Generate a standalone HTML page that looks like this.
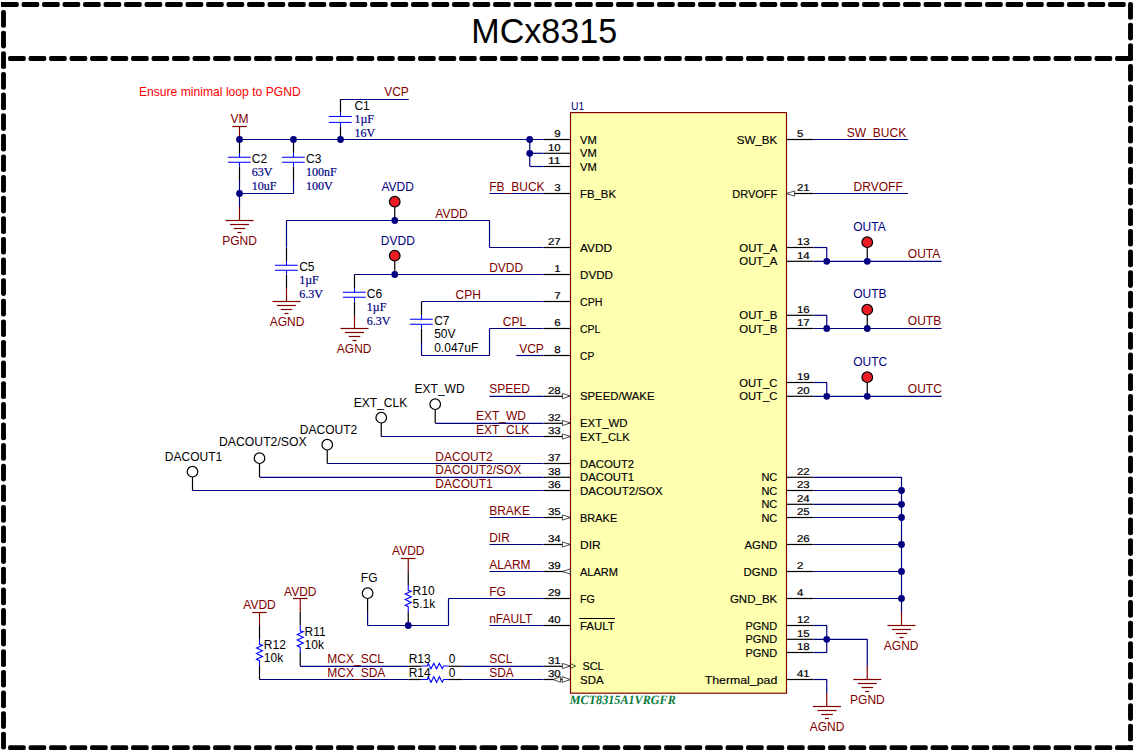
<!DOCTYPE html>
<html><head><meta charset="utf-8"><title>MCx8315</title>
<style>html,body{margin:0;padding:0;background:#fff;}svg{display:block}</style>
</head><body>
<svg width="1136" height="752" viewBox="0 0 1136 752">
<rect width="1136" height="752" fill="#fff"/>
<defs><rect id="dh" width="17.8" height="4.9" rx="1.8" ry="2.2"/><rect id="dv" width="4.9" height="17.7" rx="2.2" ry="1.8"/></defs>
<use href="#dh" x="1.0" y="2.05"/>
<use href="#dh" x="21.5" y="2.05"/>
<use href="#dh" x="42.0" y="2.05"/>
<use href="#dh" x="62.5" y="2.05"/>
<use href="#dh" x="83.0" y="2.05"/>
<use href="#dh" x="103.5" y="2.05"/>
<use href="#dh" x="124.0" y="2.05"/>
<use href="#dh" x="144.5" y="2.05"/>
<use href="#dh" x="165.0" y="2.05"/>
<use href="#dh" x="185.5" y="2.05"/>
<use href="#dh" x="206.0" y="2.05"/>
<use href="#dh" x="226.5" y="2.05"/>
<use href="#dh" x="247.0" y="2.05"/>
<use href="#dh" x="267.5" y="2.05"/>
<use href="#dh" x="288.0" y="2.05"/>
<use href="#dh" x="308.5" y="2.05"/>
<use href="#dh" x="329.0" y="2.05"/>
<use href="#dh" x="349.5" y="2.05"/>
<use href="#dh" x="370.0" y="2.05"/>
<use href="#dh" x="390.5" y="2.05"/>
<use href="#dh" x="411.0" y="2.05"/>
<use href="#dh" x="431.5" y="2.05"/>
<use href="#dh" x="452.0" y="2.05"/>
<use href="#dh" x="472.5" y="2.05"/>
<use href="#dh" x="493.0" y="2.05"/>
<use href="#dh" x="513.5" y="2.05"/>
<use href="#dh" x="534.0" y="2.05"/>
<use href="#dh" x="554.5" y="2.05"/>
<use href="#dh" x="575.0" y="2.05"/>
<use href="#dh" x="595.5" y="2.05"/>
<use href="#dh" x="616.0" y="2.05"/>
<use href="#dh" x="636.5" y="2.05"/>
<use href="#dh" x="657.0" y="2.05"/>
<use href="#dh" x="677.5" y="2.05"/>
<use href="#dh" x="698.0" y="2.05"/>
<use href="#dh" x="718.5" y="2.05"/>
<use href="#dh" x="739.0" y="2.05"/>
<use href="#dh" x="759.5" y="2.05"/>
<use href="#dh" x="780.0" y="2.05"/>
<use href="#dh" x="800.5" y="2.05"/>
<use href="#dh" x="821.0" y="2.05"/>
<use href="#dh" x="841.5" y="2.05"/>
<use href="#dh" x="862.0" y="2.05"/>
<use href="#dh" x="882.5" y="2.05"/>
<use href="#dh" x="903.0" y="2.05"/>
<use href="#dh" x="923.5" y="2.05"/>
<use href="#dh" x="944.0" y="2.05"/>
<use href="#dh" x="964.5" y="2.05"/>
<use href="#dh" x="985.0" y="2.05"/>
<use href="#dh" x="1005.5" y="2.05"/>
<use href="#dh" x="1026.0" y="2.05"/>
<use href="#dh" x="1046.5" y="2.05"/>
<use href="#dh" x="1067.0" y="2.05"/>
<use href="#dh" x="1087.5" y="2.05"/>
<use href="#dh" x="1108.0" y="2.05"/>
<use href="#dh" x="8.0" y="56.05"/>
<use href="#dh" x="28.5" y="56.05"/>
<use href="#dh" x="49.0" y="56.05"/>
<use href="#dh" x="69.5" y="56.05"/>
<use href="#dh" x="90.0" y="56.05"/>
<use href="#dh" x="110.5" y="56.05"/>
<use href="#dh" x="131.0" y="56.05"/>
<use href="#dh" x="151.5" y="56.05"/>
<use href="#dh" x="172.0" y="56.05"/>
<use href="#dh" x="192.5" y="56.05"/>
<use href="#dh" x="213.0" y="56.05"/>
<use href="#dh" x="233.5" y="56.05"/>
<use href="#dh" x="254.0" y="56.05"/>
<use href="#dh" x="274.5" y="56.05"/>
<use href="#dh" x="295.0" y="56.05"/>
<use href="#dh" x="315.5" y="56.05"/>
<use href="#dh" x="336.0" y="56.05"/>
<use href="#dh" x="356.5" y="56.05"/>
<use href="#dh" x="377.0" y="56.05"/>
<use href="#dh" x="397.5" y="56.05"/>
<use href="#dh" x="418.0" y="56.05"/>
<use href="#dh" x="438.5" y="56.05"/>
<use href="#dh" x="459.0" y="56.05"/>
<use href="#dh" x="479.5" y="56.05"/>
<use href="#dh" x="500.0" y="56.05"/>
<use href="#dh" x="520.5" y="56.05"/>
<use href="#dh" x="541.0" y="56.05"/>
<use href="#dh" x="561.5" y="56.05"/>
<use href="#dh" x="582.0" y="56.05"/>
<use href="#dh" x="602.5" y="56.05"/>
<use href="#dh" x="623.0" y="56.05"/>
<use href="#dh" x="643.5" y="56.05"/>
<use href="#dh" x="664.0" y="56.05"/>
<use href="#dh" x="684.5" y="56.05"/>
<use href="#dh" x="705.0" y="56.05"/>
<use href="#dh" x="725.5" y="56.05"/>
<use href="#dh" x="746.0" y="56.05"/>
<use href="#dh" x="766.5" y="56.05"/>
<use href="#dh" x="787.0" y="56.05"/>
<use href="#dh" x="807.5" y="56.05"/>
<use href="#dh" x="828.0" y="56.05"/>
<use href="#dh" x="848.5" y="56.05"/>
<use href="#dh" x="869.0" y="56.05"/>
<use href="#dh" x="889.5" y="56.05"/>
<use href="#dh" x="910.0" y="56.05"/>
<use href="#dh" x="930.5" y="56.05"/>
<use href="#dh" x="951.0" y="56.05"/>
<use href="#dh" x="971.5" y="56.05"/>
<use href="#dh" x="992.0" y="56.05"/>
<use href="#dh" x="1012.5" y="56.05"/>
<use href="#dh" x="1033.0" y="56.05"/>
<use href="#dh" x="1053.5" y="56.05"/>
<use href="#dh" x="1074.0" y="56.05"/>
<use href="#dh" x="1094.5" y="56.05"/>
<use href="#dh" x="1115.0" y="56.05"/>
<use href="#dh" x="8.0" y="745.20"/>
<use href="#dh" x="28.5" y="745.20"/>
<use href="#dh" x="49.0" y="745.20"/>
<use href="#dh" x="69.5" y="745.20"/>
<use href="#dh" x="90.0" y="745.20"/>
<use href="#dh" x="110.5" y="745.20"/>
<use href="#dh" x="131.0" y="745.20"/>
<use href="#dh" x="151.5" y="745.20"/>
<use href="#dh" x="172.0" y="745.20"/>
<use href="#dh" x="192.5" y="745.20"/>
<use href="#dh" x="213.0" y="745.20"/>
<use href="#dh" x="233.5" y="745.20"/>
<use href="#dh" x="254.0" y="745.20"/>
<use href="#dh" x="274.5" y="745.20"/>
<use href="#dh" x="295.0" y="745.20"/>
<use href="#dh" x="315.5" y="745.20"/>
<use href="#dh" x="336.0" y="745.20"/>
<use href="#dh" x="356.5" y="745.20"/>
<use href="#dh" x="377.0" y="745.20"/>
<use href="#dh" x="397.5" y="745.20"/>
<use href="#dh" x="418.0" y="745.20"/>
<use href="#dh" x="438.5" y="745.20"/>
<use href="#dh" x="459.0" y="745.20"/>
<use href="#dh" x="479.5" y="745.20"/>
<use href="#dh" x="500.0" y="745.20"/>
<use href="#dh" x="520.5" y="745.20"/>
<use href="#dh" x="541.0" y="745.20"/>
<use href="#dh" x="561.5" y="745.20"/>
<use href="#dh" x="582.0" y="745.20"/>
<use href="#dh" x="602.5" y="745.20"/>
<use href="#dh" x="623.0" y="745.20"/>
<use href="#dh" x="643.5" y="745.20"/>
<use href="#dh" x="664.0" y="745.20"/>
<use href="#dh" x="684.5" y="745.20"/>
<use href="#dh" x="705.0" y="745.20"/>
<use href="#dh" x="725.5" y="745.20"/>
<use href="#dh" x="746.0" y="745.20"/>
<use href="#dh" x="766.5" y="745.20"/>
<use href="#dh" x="787.0" y="745.20"/>
<use href="#dh" x="807.5" y="745.20"/>
<use href="#dh" x="828.0" y="745.20"/>
<use href="#dh" x="848.5" y="745.20"/>
<use href="#dh" x="869.0" y="745.20"/>
<use href="#dh" x="889.5" y="745.20"/>
<use href="#dh" x="910.0" y="745.20"/>
<use href="#dh" x="930.5" y="745.20"/>
<use href="#dh" x="951.0" y="745.20"/>
<use href="#dh" x="971.5" y="745.20"/>
<use href="#dh" x="992.0" y="745.20"/>
<use href="#dh" x="1012.5" y="745.20"/>
<use href="#dh" x="1033.0" y="745.20"/>
<use href="#dh" x="1053.5" y="745.20"/>
<use href="#dh" x="1074.0" y="745.20"/>
<use href="#dh" x="1094.5" y="745.20"/>
<use href="#dh" x="1115.0" y="745.20"/>
<use href="#dv" x="1.05" y="10.1"/>
<use href="#dv" x="1.05" y="30.7"/>
<use href="#dv" x="1.05" y="51.3"/>
<use href="#dv" x="1.05" y="72.0"/>
<use href="#dv" x="1.05" y="92.6"/>
<use href="#dv" x="1.05" y="113.2"/>
<use href="#dv" x="1.05" y="133.8"/>
<use href="#dv" x="1.05" y="154.4"/>
<use href="#dv" x="1.05" y="175.1"/>
<use href="#dv" x="1.05" y="195.7"/>
<use href="#dv" x="1.05" y="216.3"/>
<use href="#dv" x="1.05" y="236.9"/>
<use href="#dv" x="1.05" y="257.5"/>
<use href="#dv" x="1.05" y="278.2"/>
<use href="#dv" x="1.05" y="298.8"/>
<use href="#dv" x="1.05" y="319.4"/>
<use href="#dv" x="1.05" y="340.0"/>
<use href="#dv" x="1.05" y="360.6"/>
<use href="#dv" x="1.05" y="381.3"/>
<use href="#dv" x="1.05" y="401.9"/>
<use href="#dv" x="1.05" y="422.5"/>
<use href="#dv" x="1.05" y="443.1"/>
<use href="#dv" x="1.05" y="463.7"/>
<use href="#dv" x="1.05" y="484.4"/>
<use href="#dv" x="1.05" y="505.0"/>
<use href="#dv" x="1.05" y="525.6"/>
<use href="#dv" x="1.05" y="546.2"/>
<use href="#dv" x="1.05" y="566.8"/>
<use href="#dv" x="1.05" y="587.5"/>
<use href="#dv" x="1.05" y="608.1"/>
<use href="#dv" x="1.05" y="628.7"/>
<use href="#dv" x="1.05" y="649.3"/>
<use href="#dv" x="1.05" y="669.9"/>
<use href="#dv" x="1.05" y="690.6"/>
<use href="#dv" x="1.05" y="711.2"/>
<use href="#dv" x="1.05" y="731.8"/>
<use href="#dv" x="1128.05" y="2.1"/>
<use href="#dv" x="1128.05" y="22.7"/>
<use href="#dv" x="1128.05" y="43.3"/>
<use href="#dv" x="1128.05" y="64.0"/>
<use href="#dv" x="1128.05" y="84.6"/>
<use href="#dv" x="1128.05" y="105.2"/>
<use href="#dv" x="1128.05" y="125.8"/>
<use href="#dv" x="1128.05" y="146.4"/>
<use href="#dv" x="1128.05" y="167.1"/>
<use href="#dv" x="1128.05" y="187.7"/>
<use href="#dv" x="1128.05" y="208.3"/>
<use href="#dv" x="1128.05" y="228.9"/>
<use href="#dv" x="1128.05" y="249.5"/>
<use href="#dv" x="1128.05" y="270.2"/>
<use href="#dv" x="1128.05" y="290.8"/>
<use href="#dv" x="1128.05" y="311.4"/>
<use href="#dv" x="1128.05" y="332.0"/>
<use href="#dv" x="1128.05" y="352.6"/>
<use href="#dv" x="1128.05" y="373.3"/>
<use href="#dv" x="1128.05" y="393.9"/>
<use href="#dv" x="1128.05" y="414.5"/>
<use href="#dv" x="1128.05" y="435.1"/>
<use href="#dv" x="1128.05" y="455.7"/>
<use href="#dv" x="1128.05" y="476.4"/>
<use href="#dv" x="1128.05" y="497.0"/>
<use href="#dv" x="1128.05" y="517.6"/>
<use href="#dv" x="1128.05" y="538.2"/>
<use href="#dv" x="1128.05" y="558.8"/>
<use href="#dv" x="1128.05" y="579.5"/>
<use href="#dv" x="1128.05" y="600.1"/>
<use href="#dv" x="1128.05" y="620.7"/>
<use href="#dv" x="1128.05" y="641.3"/>
<use href="#dv" x="1128.05" y="661.9"/>
<use href="#dv" x="1128.05" y="682.6"/>
<use href="#dv" x="1128.05" y="703.2"/>
<use href="#dv" x="1128.05" y="723.8"/>
<rect x="1" y="2.05" width="6" height="4.9" fill="#000"/>
<rect x="1128.05" y="745.2" width="4.9" height="4.9" fill="#000"/>
<text transform="matrix(0.9615 0 0 1 471.33 42.80)" fill="#000000" font-size="35.46" font-family="Liberation Sans, sans-serif" >MCx8315</text>
<text transform="matrix(1.0121 0 0 1 138.90 96.20)" fill="#FF0000" font-size="12.00" font-family="Liberation Sans, sans-serif" >Ensure minimal loop to PGND</text>
<rect x="570.5" y="112.6" width="216" height="580.6" fill="#FFFFB0" stroke="#800000" stroke-width="1.2"/>
<text transform="matrix(0.9834 0 0 1 571.00 109.50)" fill="#000080" font-size="10.50" font-family="Liberation Sans, sans-serif" >U1</text>
<text transform="matrix(0.9492 0 0 1 569.80 703.70)" fill="#087A3C" font-size="12.80" font-family="Liberation Serif, serif" font-style="italic" font-weight="bold" text-rendering="geometricPrecision">MCT8315A1VRGFR</text>
<line x1="543.5" y1="139.5" x2="570.5" y2="139.5" stroke="#000000" stroke-width="1.2" />
<text transform="matrix(1.1436 0 0 1 554.24 137.10)" fill="#000000" font-size="10.00" font-family="Liberation Sans, sans-serif" stroke="#000" stroke-width="0.2" text-rendering="geometricPrecision">9</text>
<text transform="matrix(1.0180 0 0 1 580.00 143.80)" fill="#000000" font-size="11.00" font-family="Liberation Sans, sans-serif" stroke="#000" stroke-width="0.15">VM</text>
<line x1="543.5" y1="153.3" x2="570.5" y2="153.3" stroke="#000000" stroke-width="1.2" />
<text transform="matrix(1.1436 0 0 1 547.88 150.60)" fill="#000000" font-size="10.00" font-family="Liberation Sans, sans-serif" stroke="#000" stroke-width="0.2" text-rendering="geometricPrecision">10</text>
<text transform="matrix(1.0180 0 0 1 580.00 157.30)" fill="#000000" font-size="11.00" font-family="Liberation Sans, sans-serif" stroke="#000" stroke-width="0.15">VM</text>
<line x1="543.5" y1="166.5" x2="570.5" y2="166.5" stroke="#000000" stroke-width="1.2" />
<text transform="matrix(1.2253 0 0 1 547.88 164.10)" fill="#000000" font-size="10.00" font-family="Liberation Sans, sans-serif" stroke="#000" stroke-width="0.2" text-rendering="geometricPrecision">11</text>
<text transform="matrix(1.0180 0 0 1 580.00 170.80)" fill="#000000" font-size="11.00" font-family="Liberation Sans, sans-serif" stroke="#000" stroke-width="0.15">VM</text>
<line x1="543.5" y1="193.5" x2="570.5" y2="193.5" stroke="#000000" stroke-width="1.2" />
<text transform="matrix(1.1436 0 0 1 554.24 191.10)" fill="#000000" font-size="10.00" font-family="Liberation Sans, sans-serif" stroke="#000" stroke-width="0.2" text-rendering="geometricPrecision">3</text>
<text transform="matrix(1.0341 0 0 1 580.00 197.80)" fill="#000000" font-size="11.00" font-family="Liberation Sans, sans-serif" stroke="#000" stroke-width="0.15">FB_BK</text>
<line x1="543.5" y1="247.5" x2="570.5" y2="247.5" stroke="#000000" stroke-width="1.2" />
<text transform="matrix(1.1436 0 0 1 547.88 245.10)" fill="#000000" font-size="10.00" font-family="Liberation Sans, sans-serif" stroke="#000" stroke-width="0.2" text-rendering="geometricPrecision">27</text>
<text transform="matrix(1.0761 0 0 1 580.00 251.80)" fill="#000000" font-size="11.00" font-family="Liberation Sans, sans-serif" stroke="#000" stroke-width="0.15">AVDD</text>
<line x1="543.5" y1="274.5" x2="570.5" y2="274.5" stroke="#000000" stroke-width="1.2" />
<text transform="matrix(1.1436 0 0 1 554.24 272.10)" fill="#000000" font-size="10.00" font-family="Liberation Sans, sans-serif" stroke="#000" stroke-width="0.2" text-rendering="geometricPrecision">1</text>
<text transform="matrix(1.0577 0 0 1 580.00 278.80)" fill="#000000" font-size="11.00" font-family="Liberation Sans, sans-serif" stroke="#000" stroke-width="0.15">DVDD</text>
<line x1="543.5" y1="301.5" x2="570.5" y2="301.5" stroke="#000000" stroke-width="1.2" />
<text transform="matrix(1.1436 0 0 1 554.24 299.10)" fill="#000000" font-size="10.00" font-family="Liberation Sans, sans-serif" stroke="#000" stroke-width="0.2" text-rendering="geometricPrecision">7</text>
<text transform="matrix(0.9719 0 0 1 580.00 305.80)" fill="#000000" font-size="11.00" font-family="Liberation Sans, sans-serif" stroke="#000" stroke-width="0.15">CPH</text>
<line x1="543.5" y1="328.5" x2="570.5" y2="328.5" stroke="#000000" stroke-width="1.2" />
<text transform="matrix(1.1436 0 0 1 554.24 326.10)" fill="#000000" font-size="10.00" font-family="Liberation Sans, sans-serif" stroke="#000" stroke-width="0.2" text-rendering="geometricPrecision">6</text>
<text transform="matrix(0.9551 0 0 1 580.00 332.80)" fill="#000000" font-size="11.00" font-family="Liberation Sans, sans-serif" stroke="#000" stroke-width="0.15">CPL</text>
<line x1="543.5" y1="355.5" x2="570.5" y2="355.5" stroke="#000000" stroke-width="1.2" />
<text transform="matrix(1.1436 0 0 1 554.24 353.10)" fill="#000000" font-size="10.00" font-family="Liberation Sans, sans-serif" stroke="#000" stroke-width="0.2" text-rendering="geometricPrecision">8</text>
<text transform="matrix(0.9365 0 0 1 580.00 359.80)" fill="#000000" font-size="11.00" font-family="Liberation Sans, sans-serif" stroke="#000" stroke-width="0.15">CP</text>
<line x1="543.5" y1="396.3" x2="570.5" y2="396.3" stroke="#000000" stroke-width="1.2" />
<text transform="matrix(1.1436 0 0 1 547.88 393.60)" fill="#000000" font-size="10.00" font-family="Liberation Sans, sans-serif" stroke="#000" stroke-width="0.2" text-rendering="geometricPrecision">28</text>
<text transform="matrix(1.0302 0 0 1 580.00 400.30)" fill="#000000" font-size="11.00" font-family="Liberation Sans, sans-serif" stroke="#000" stroke-width="0.15">SPEED/WAKE</text>
<line x1="543.5" y1="423.3" x2="570.5" y2="423.3" stroke="#000000" stroke-width="1.2" />
<text transform="matrix(1.1436 0 0 1 547.88 420.60)" fill="#000000" font-size="10.00" font-family="Liberation Sans, sans-serif" stroke="#000" stroke-width="0.2" text-rendering="geometricPrecision">32</text>
<text transform="matrix(1.0389 0 0 1 580.00 427.30)" fill="#000000" font-size="11.00" font-family="Liberation Sans, sans-serif" stroke="#000" stroke-width="0.15">EXT_WD</text>
<line x1="543.5" y1="436.5" x2="570.5" y2="436.5" stroke="#000000" stroke-width="1.2" />
<text transform="matrix(1.1436 0 0 1 547.88 434.10)" fill="#000000" font-size="10.00" font-family="Liberation Sans, sans-serif" stroke="#000" stroke-width="0.2" text-rendering="geometricPrecision">33</text>
<text transform="matrix(1.0159 0 0 1 580.00 440.80)" fill="#000000" font-size="11.00" font-family="Liberation Sans, sans-serif" stroke="#000" stroke-width="0.15">EXT_CLK</text>
<line x1="543.5" y1="463.5" x2="570.5" y2="463.5" stroke="#000000" stroke-width="1.2" />
<text transform="matrix(1.1436 0 0 1 547.88 461.10)" fill="#000000" font-size="10.00" font-family="Liberation Sans, sans-serif" stroke="#000" stroke-width="0.2" text-rendering="geometricPrecision">37</text>
<text transform="matrix(1.0305 0 0 1 580.00 467.80)" fill="#000000" font-size="11.00" font-family="Liberation Sans, sans-serif" stroke="#000" stroke-width="0.15">DACOUT2</text>
<line x1="543.5" y1="477.3" x2="570.5" y2="477.3" stroke="#000000" stroke-width="1.2" />
<text transform="matrix(1.1436 0 0 1 547.88 474.60)" fill="#000000" font-size="10.00" font-family="Liberation Sans, sans-serif" stroke="#000" stroke-width="0.2" text-rendering="geometricPrecision">38</text>
<text transform="matrix(1.0305 0 0 1 580.00 481.30)" fill="#000000" font-size="11.00" font-family="Liberation Sans, sans-serif" stroke="#000" stroke-width="0.15">DACOUT1</text>
<line x1="543.5" y1="490.5" x2="570.5" y2="490.5" stroke="#000000" stroke-width="1.2" />
<text transform="matrix(1.1436 0 0 1 547.88 488.10)" fill="#000000" font-size="10.00" font-family="Liberation Sans, sans-serif" stroke="#000" stroke-width="0.2" text-rendering="geometricPrecision">36</text>
<text transform="matrix(1.0511 0 0 1 580.00 494.80)" fill="#000000" font-size="11.00" font-family="Liberation Sans, sans-serif" stroke="#000" stroke-width="0.15">DACOUT2/SOX</text>
<line x1="543.5" y1="517.5" x2="570.5" y2="517.5" stroke="#000000" stroke-width="1.2" />
<text transform="matrix(1.1436 0 0 1 547.88 515.10)" fill="#000000" font-size="10.00" font-family="Liberation Sans, sans-serif" stroke="#000" stroke-width="0.2" text-rendering="geometricPrecision">35</text>
<text transform="matrix(0.9999 0 0 1 580.00 521.80)" fill="#000000" font-size="11.00" font-family="Liberation Sans, sans-serif" stroke="#000" stroke-width="0.15">BRAKE</text>
<line x1="543.5" y1="544.5" x2="570.5" y2="544.5" stroke="#000000" stroke-width="1.2" />
<text transform="matrix(1.1436 0 0 1 547.88 542.10)" fill="#000000" font-size="10.00" font-family="Liberation Sans, sans-serif" stroke="#000" stroke-width="0.2" text-rendering="geometricPrecision">34</text>
<text transform="matrix(1.0957 0 0 1 580.00 548.80)" fill="#000000" font-size="11.00" font-family="Liberation Sans, sans-serif" stroke="#000" stroke-width="0.15">DIR</text>
<line x1="543.5" y1="571.5" x2="570.5" y2="571.5" stroke="#000000" stroke-width="1.2" />
<text transform="matrix(1.1436 0 0 1 547.88 569.10)" fill="#000000" font-size="10.00" font-family="Liberation Sans, sans-serif" stroke="#000" stroke-width="0.2" text-rendering="geometricPrecision">39</text>
<text transform="matrix(1.0051 0 0 1 580.00 575.80)" fill="#000000" font-size="11.00" font-family="Liberation Sans, sans-serif" stroke="#000" stroke-width="0.15">ALARM</text>
<line x1="543.5" y1="598.5" x2="570.5" y2="598.5" stroke="#000000" stroke-width="1.2" />
<text transform="matrix(1.1436 0 0 1 547.88 596.10)" fill="#000000" font-size="10.00" font-family="Liberation Sans, sans-serif" stroke="#000" stroke-width="0.2" text-rendering="geometricPrecision">29</text>
<text transform="matrix(0.9722 0 0 1 580.00 602.80)" fill="#000000" font-size="11.00" font-family="Liberation Sans, sans-serif" stroke="#000" stroke-width="0.15">FG</text>
<line x1="543.5" y1="625.5" x2="570.5" y2="625.5" stroke="#000000" stroke-width="1.2" />
<text transform="matrix(1.1436 0 0 1 547.88 623.10)" fill="#000000" font-size="10.00" font-family="Liberation Sans, sans-serif" stroke="#000" stroke-width="0.2" text-rendering="geometricPrecision">40</text>
<text transform="matrix(1.0416 0 0 1 580.00 629.80)" fill="#000000" font-size="11.00" font-family="Liberation Sans, sans-serif" stroke="#000" stroke-width="0.15">FAULT</text>
<line x1="543.5" y1="666.3" x2="570.5" y2="666.3" stroke="#000000" stroke-width="1.2" />
<text transform="matrix(1.1436 0 0 1 547.88 663.60)" fill="#000000" font-size="10.00" font-family="Liberation Sans, sans-serif" stroke="#000" stroke-width="0.2" text-rendering="geometricPrecision">31</text>
<text transform="matrix(0.9967 0 0 1 582.40 670.30)" fill="#000000" font-size="11.00" font-family="Liberation Sans, sans-serif" stroke="#000" stroke-width="0.15">SCL</text>
<line x1="543.5" y1="679.5" x2="570.5" y2="679.5" stroke="#000000" stroke-width="1.2" />
<text transform="matrix(1.1436 0 0 1 547.88 677.10)" fill="#000000" font-size="10.00" font-family="Liberation Sans, sans-serif" stroke="#000" stroke-width="0.2" text-rendering="geometricPrecision">30</text>
<text transform="matrix(1.0403 0 0 1 580.00 683.80)" fill="#000000" font-size="11.00" font-family="Liberation Sans, sans-serif" stroke="#000" stroke-width="0.15">SDA</text>
<line x1="579.3" y1="618.5" x2="615" y2="618.5" stroke="#000000" stroke-width="1.0" />
<path d="M562.4,393.4 L570.3,396 L562.4,398.6 Z" fill="#fff" stroke="#222" stroke-width="0.8"/>
<path d="M562.4,420.4 L570.3,423 L562.4,425.6 Z" fill="#fff" stroke="#222" stroke-width="0.8"/>
<path d="M562.4,433.9 L570.3,436.5 L562.4,439.1 Z" fill="#fff" stroke="#222" stroke-width="0.8"/>
<path d="M562.4,514.9 L570.3,517.5 L562.4,520.1 Z" fill="#fff" stroke="#222" stroke-width="0.8"/>
<path d="M562.4,541.9 L570.3,544.5 L562.4,547.1 Z" fill="#fff" stroke="#222" stroke-width="0.8"/>
<path d="M562.4,663.4 L570.3,666 L562.4,668.6 Z" fill="#fff" stroke="#222" stroke-width="0.8"/>
<path d="M570.3,568.9 L562.4,571.5 L570.3,574.1 Z" fill="#fff" stroke="#222" stroke-width="0.8"/>
<path d="M570.5,663.5 L575.6,666 L570.5,668.5" fill="none" stroke="#222" stroke-width="0.8"/>
<path d="M560.6,676.7 L553.1,679.5 L560.6,682.3 Z" fill="#fff" stroke="#222" stroke-width="0.8"/>
<path d="M562.2,676.7 L570.3,679.5 L562.2,682.3 Z" fill="#fff" stroke="#222" stroke-width="0.8"/>
<line x1="786.5" y1="139.5" x2="813.5" y2="139.5" stroke="#000000" stroke-width="1.2" />
<text transform="matrix(1.1436 0 0 1 797.00 137.10)" fill="#000000" font-size="10.00" font-family="Liberation Sans, sans-serif" stroke="#000" stroke-width="0.2" text-rendering="geometricPrecision">5</text>
<text transform="matrix(1.0534 0 0 1 736.73 143.80)" fill="#000000" font-size="11.00" font-family="Liberation Sans, sans-serif" stroke="#000" stroke-width="0.15">SW_BK</text>
<line x1="786.5" y1="193.5" x2="813.5" y2="193.5" stroke="#000000" stroke-width="1.2" />
<text transform="matrix(1.1436 0 0 1 797.00 191.10)" fill="#000000" font-size="10.00" font-family="Liberation Sans, sans-serif" stroke="#000" stroke-width="0.2" text-rendering="geometricPrecision">21</text>
<text transform="matrix(0.9986 0 0 1 732.34 197.80)" fill="#000000" font-size="11.00" font-family="Liberation Sans, sans-serif" stroke="#000" stroke-width="0.15">DRVOFF</text>
<line x1="786.5" y1="247.5" x2="813.5" y2="247.5" stroke="#000000" stroke-width="1.2" />
<text transform="matrix(1.1436 0 0 1 797.00 245.10)" fill="#000000" font-size="10.00" font-family="Liberation Sans, sans-serif" stroke="#000" stroke-width="0.2" text-rendering="geometricPrecision">13</text>
<text transform="matrix(1.0363 0 0 1 739.29 251.80)" fill="#000000" font-size="11.00" font-family="Liberation Sans, sans-serif" stroke="#000" stroke-width="0.15">OUT_A</text>
<line x1="786.5" y1="261.3" x2="813.5" y2="261.3" stroke="#000000" stroke-width="1.2" />
<text transform="matrix(1.1436 0 0 1 797.00 258.60)" fill="#000000" font-size="10.00" font-family="Liberation Sans, sans-serif" stroke="#000" stroke-width="0.2" text-rendering="geometricPrecision">14</text>
<text transform="matrix(1.0363 0 0 1 739.29 265.30)" fill="#000000" font-size="11.00" font-family="Liberation Sans, sans-serif" stroke="#000" stroke-width="0.15">OUT_A</text>
<line x1="786.5" y1="315.3" x2="813.5" y2="315.3" stroke="#000000" stroke-width="1.2" />
<text transform="matrix(1.1436 0 0 1 797.00 312.60)" fill="#000000" font-size="10.00" font-family="Liberation Sans, sans-serif" stroke="#000" stroke-width="0.2" text-rendering="geometricPrecision">16</text>
<text transform="matrix(1.0369 0 0 1 739.27 319.30)" fill="#000000" font-size="11.00" font-family="Liberation Sans, sans-serif" stroke="#000" stroke-width="0.15">OUT_B</text>
<line x1="786.5" y1="328.5" x2="813.5" y2="328.5" stroke="#000000" stroke-width="1.2" />
<text transform="matrix(1.1436 0 0 1 797.00 326.10)" fill="#000000" font-size="10.00" font-family="Liberation Sans, sans-serif" stroke="#000" stroke-width="0.2" text-rendering="geometricPrecision">17</text>
<text transform="matrix(1.0369 0 0 1 739.27 332.80)" fill="#000000" font-size="11.00" font-family="Liberation Sans, sans-serif" stroke="#000" stroke-width="0.15">OUT_B</text>
<line x1="786.5" y1="382.5" x2="813.5" y2="382.5" stroke="#000000" stroke-width="1.2" />
<text transform="matrix(1.1436 0 0 1 797.00 380.10)" fill="#000000" font-size="10.00" font-family="Liberation Sans, sans-serif" stroke="#000" stroke-width="0.2" text-rendering="geometricPrecision">19</text>
<text transform="matrix(1.0236 0 0 1 739.14 386.80)" fill="#000000" font-size="11.00" font-family="Liberation Sans, sans-serif" stroke="#000" stroke-width="0.15">OUT_C</text>
<line x1="786.5" y1="396.3" x2="813.5" y2="396.3" stroke="#000000" stroke-width="1.2" />
<text transform="matrix(1.1436 0 0 1 797.00 393.60)" fill="#000000" font-size="10.00" font-family="Liberation Sans, sans-serif" stroke="#000" stroke-width="0.2" text-rendering="geometricPrecision">20</text>
<text transform="matrix(1.0236 0 0 1 739.14 400.30)" fill="#000000" font-size="11.00" font-family="Liberation Sans, sans-serif" stroke="#000" stroke-width="0.15">OUT_C</text>
<line x1="786.5" y1="477.3" x2="813.5" y2="477.3" stroke="#000000" stroke-width="1.2" />
<text transform="matrix(1.1436 0 0 1 797.00 474.60)" fill="#000000" font-size="10.00" font-family="Liberation Sans, sans-serif" stroke="#000" stroke-width="0.2" text-rendering="geometricPrecision">22</text>
<text transform="matrix(1.0011 0 0 1 761.39 481.30)" fill="#000000" font-size="11.00" font-family="Liberation Sans, sans-serif" stroke="#000" stroke-width="0.15">NC</text>
<line x1="786.5" y1="490.5" x2="813.5" y2="490.5" stroke="#000000" stroke-width="1.2" />
<text transform="matrix(1.1436 0 0 1 797.00 488.10)" fill="#000000" font-size="10.00" font-family="Liberation Sans, sans-serif" stroke="#000" stroke-width="0.2" text-rendering="geometricPrecision">23</text>
<text transform="matrix(1.0011 0 0 1 761.39 494.80)" fill="#000000" font-size="11.00" font-family="Liberation Sans, sans-serif" stroke="#000" stroke-width="0.15">NC</text>
<line x1="786.5" y1="504.3" x2="813.5" y2="504.3" stroke="#000000" stroke-width="1.2" />
<text transform="matrix(1.1436 0 0 1 797.00 501.60)" fill="#000000" font-size="10.00" font-family="Liberation Sans, sans-serif" stroke="#000" stroke-width="0.2" text-rendering="geometricPrecision">24</text>
<text transform="matrix(1.0011 0 0 1 761.39 508.30)" fill="#000000" font-size="11.00" font-family="Liberation Sans, sans-serif" stroke="#000" stroke-width="0.15">NC</text>
<line x1="786.5" y1="517.5" x2="813.5" y2="517.5" stroke="#000000" stroke-width="1.2" />
<text transform="matrix(1.1436 0 0 1 797.00 515.10)" fill="#000000" font-size="10.00" font-family="Liberation Sans, sans-serif" stroke="#000" stroke-width="0.2" text-rendering="geometricPrecision">25</text>
<text transform="matrix(1.0011 0 0 1 761.39 521.80)" fill="#000000" font-size="11.00" font-family="Liberation Sans, sans-serif" stroke="#000" stroke-width="0.15">NC</text>
<line x1="786.5" y1="544.5" x2="813.5" y2="544.5" stroke="#000000" stroke-width="1.2" />
<text transform="matrix(1.1436 0 0 1 797.00 542.10)" fill="#000000" font-size="10.00" font-family="Liberation Sans, sans-serif" stroke="#000" stroke-width="0.2" text-rendering="geometricPrecision">26</text>
<text transform="matrix(1.0307 0 0 1 744.54 548.80)" fill="#000000" font-size="11.00" font-family="Liberation Sans, sans-serif" stroke="#000" stroke-width="0.15">AGND</text>
<line x1="786.5" y1="571.5" x2="813.5" y2="571.5" stroke="#000000" stroke-width="1.2" />
<text transform="matrix(1.1436 0 0 1 797.00 569.10)" fill="#000000" font-size="10.00" font-family="Liberation Sans, sans-serif" stroke="#000" stroke-width="0.2" text-rendering="geometricPrecision">2</text>
<text transform="matrix(1.0410 0 0 1 743.58 575.80)" fill="#000000" font-size="11.00" font-family="Liberation Sans, sans-serif" stroke="#000" stroke-width="0.15">DGND</text>
<line x1="786.5" y1="598.5" x2="813.5" y2="598.5" stroke="#000000" stroke-width="1.2" />
<text transform="matrix(1.1436 0 0 1 797.00 596.10)" fill="#000000" font-size="10.00" font-family="Liberation Sans, sans-serif" stroke="#000" stroke-width="0.2" text-rendering="geometricPrecision">4</text>
<text transform="matrix(1.0478 0 0 1 729.90 602.80)" fill="#000000" font-size="11.00" font-family="Liberation Sans, sans-serif" stroke="#000" stroke-width="0.15">GND_BK</text>
<line x1="786.5" y1="625.5" x2="813.5" y2="625.5" stroke="#000000" stroke-width="1.2" />
<text transform="matrix(1.1436 0 0 1 797.00 623.10)" fill="#000000" font-size="10.00" font-family="Liberation Sans, sans-serif" stroke="#000" stroke-width="0.2" text-rendering="geometricPrecision">12</text>
<text transform="matrix(1.0027 0 0 1 745.43 629.80)" fill="#000000" font-size="11.00" font-family="Liberation Sans, sans-serif" stroke="#000" stroke-width="0.15">PGND</text>
<line x1="786.5" y1="639.3" x2="813.5" y2="639.3" stroke="#000000" stroke-width="1.2" />
<text transform="matrix(1.1436 0 0 1 797.00 636.60)" fill="#000000" font-size="10.00" font-family="Liberation Sans, sans-serif" stroke="#000" stroke-width="0.2" text-rendering="geometricPrecision">15</text>
<text transform="matrix(1.0027 0 0 1 745.43 643.30)" fill="#000000" font-size="11.00" font-family="Liberation Sans, sans-serif" stroke="#000" stroke-width="0.15">PGND</text>
<line x1="786.5" y1="652.5" x2="813.5" y2="652.5" stroke="#000000" stroke-width="1.2" />
<text transform="matrix(1.1436 0 0 1 797.00 650.10)" fill="#000000" font-size="10.00" font-family="Liberation Sans, sans-serif" stroke="#000" stroke-width="0.2" text-rendering="geometricPrecision">18</text>
<text transform="matrix(1.0027 0 0 1 745.43 656.80)" fill="#000000" font-size="11.00" font-family="Liberation Sans, sans-serif" stroke="#000" stroke-width="0.15">PGND</text>
<line x1="786.5" y1="679.5" x2="813.5" y2="679.5" stroke="#000000" stroke-width="1.2" />
<text transform="matrix(1.1436 0 0 1 797.00 677.10)" fill="#000000" font-size="10.00" font-family="Liberation Sans, sans-serif" stroke="#000" stroke-width="0.2" text-rendering="geometricPrecision">41</text>
<text transform="matrix(1.1206 0 0 1 704.67 683.80)" fill="#000000" font-size="11.00" font-family="Liberation Sans, sans-serif" stroke="#000" stroke-width="0.15">Thermal_pad</text>
<path d="M794.6,190.9 L786.7,193.5 L794.6,196.1 Z" fill="#fff" stroke="#222" stroke-width="0.8"/>
<line x1="239.5" y1="139.5" x2="543.5" y2="139.5" stroke="#000080" stroke-width="1.2" />
<line x1="529.75" y1="139.5" x2="529.75" y2="166.5" stroke="#000080" stroke-width="1.2" />
<line x1="530" y1="153.3" x2="543.5" y2="153.3" stroke="#000080" stroke-width="1.2" />
<line x1="530" y1="166.5" x2="543.5" y2="166.5" stroke="#000080" stroke-width="1.2" />
<line x1="232.25" y1="126.5" x2="246.75" y2="126.5" stroke="#800000" stroke-width="1.2" />
<line x1="239.5" y1="126.5" x2="239.5" y2="139.7" stroke="#800000" stroke-width="1.2" />
<text transform="matrix(1.0000 0 0 1 230.50 122.70)" fill="#800000" font-size="12.00" font-family="Liberation Sans, sans-serif" >VM</text>
<line x1="239.5" y1="139.5" x2="239.5" y2="153.0" stroke="#000000" stroke-width="1.2" />
<line x1="239.5" y1="166.5" x2="239.5" y2="180.0" stroke="#000000" stroke-width="1.2" />
<line x1="239.5" y1="153.0" x2="239.5" y2="157.25" stroke="#0000FF" stroke-width="1.1" />
<line x1="239.5" y1="162.25" x2="239.5" y2="166.5" stroke="#0000FF" stroke-width="1.1" />
<line x1="227.9" y1="157.25" x2="250.70000000000002" y2="157.25" stroke="#0000FF" stroke-width="1.05" />
<line x1="227.9" y1="162.25" x2="250.70000000000002" y2="162.25" stroke="#0000FF" stroke-width="1.05" />
<text transform="matrix(1.0000 0 0 1 251.80 162.75)" fill="#000000" font-size="12.00" font-family="Liberation Sans, sans-serif" >C2</text>
<text transform="matrix(1.0000 0 0 1 251.80 176.15)" fill="#000080" font-size="12.00" font-family="Liberation Serif, serif" stroke="#000080" stroke-width="0.18">63V</text>
<text transform="matrix(1.0000 0 0 1 251.80 189.55)" fill="#000080" font-size="12.00" font-family="Liberation Serif, serif" stroke="#000080" stroke-width="0.18">10uF</text>
<line x1="239.5" y1="180" x2="239.5" y2="207" stroke="#000080" stroke-width="1.2" />
<line x1="239.5" y1="207" x2="239.5" y2="220.5" stroke="#800000" stroke-width="1.2" />
<line x1="225.5" y1="220.5" x2="253.5" y2="220.5" stroke="#800000" stroke-width="1.2" />
<line x1="230.0" y1="224.5" x2="249.0" y2="224.5" stroke="#800000" stroke-width="1.2" />
<line x1="233.75" y1="228.5" x2="245.25" y2="228.5" stroke="#800000" stroke-width="1.2" />
<line x1="237.5" y1="232.5" x2="241.5" y2="232.5" stroke="#800000" stroke-width="1.2" />
<text transform="matrix(1.0000 0 0 1 222.16 244.70)" fill="#800000" font-size="12.00" font-family="Liberation Sans, sans-serif" >PGND</text>
<line x1="293.5" y1="139.5" x2="293.5" y2="153.0" stroke="#000000" stroke-width="1.2" />
<line x1="293.5" y1="166.5" x2="293.5" y2="180.0" stroke="#000000" stroke-width="1.2" />
<line x1="293.5" y1="153.0" x2="293.5" y2="157.25" stroke="#0000FF" stroke-width="1.1" />
<line x1="293.5" y1="162.25" x2="293.5" y2="166.5" stroke="#0000FF" stroke-width="1.1" />
<line x1="281.90000000000003" y1="157.25" x2="304.7" y2="157.25" stroke="#0000FF" stroke-width="1.05" />
<line x1="281.90000000000003" y1="162.25" x2="304.7" y2="162.25" stroke="#0000FF" stroke-width="1.05" />
<text transform="matrix(1.0000 0 0 1 306.00 162.75)" fill="#000000" font-size="12.00" font-family="Liberation Sans, sans-serif" >C3</text>
<text transform="matrix(1.0000 0 0 1 306.00 176.15)" fill="#000080" font-size="12.00" font-family="Liberation Serif, serif" stroke="#000080" stroke-width="0.18">100nF</text>
<text transform="matrix(1.0000 0 0 1 306.00 189.55)" fill="#000080" font-size="12.00" font-family="Liberation Serif, serif" stroke="#000080" stroke-width="0.18">100V</text>
<line x1="293.5" y1="180" x2="293.5" y2="193.5" stroke="#000080" stroke-width="1.2" />
<line x1="239.5" y1="193.5" x2="293.5" y2="193.5" stroke="#000080" stroke-width="1.2" />
<line x1="340.5" y1="99.2" x2="340.5" y2="112.7" stroke="#000000" stroke-width="1.2" />
<line x1="340.5" y1="126.2" x2="340.5" y2="139.7" stroke="#000000" stroke-width="1.2" />
<line x1="340.5" y1="112.7" x2="340.5" y2="116.5" stroke="#0000FF" stroke-width="1.1" />
<line x1="340.5" y1="122.4" x2="340.5" y2="126.2" stroke="#0000FF" stroke-width="1.1" />
<line x1="328.90000000000003" y1="116.5" x2="351.7" y2="116.5" stroke="#0000FF" stroke-width="1.05" />
<line x1="328.90000000000003" y1="122.4" x2="351.7" y2="122.4" stroke="#0000FF" stroke-width="1.05" />
<text transform="matrix(1.0000 0 0 1 354.40 109.75)" fill="#000000" font-size="12.00" font-family="Liberation Sans, sans-serif" >C1</text>
<text transform="matrix(1.0000 0 0 1 354.40 123.15)" fill="#000080" font-size="12.00" font-family="Liberation Serif, serif" stroke="#000080" stroke-width="0.18">1µF</text>
<text transform="matrix(1.0000 0 0 1 354.40 136.55)" fill="#000080" font-size="12.00" font-family="Liberation Serif, serif" stroke="#000080" stroke-width="0.18">16V</text>
<line x1="340.5" y1="99.5" x2="408.7" y2="99.5" stroke="#000080" stroke-width="1.2" />
<text transform="matrix(1.0000 0 0 1 384.20 96.00)" fill="#800000" font-size="12.00" font-family="Liberation Sans, sans-serif" >VCP</text>
<circle cx="239.5" cy="139.5" r="3.4" fill="#000080"/>
<circle cx="293.5" cy="139.5" r="3.4" fill="#000080"/>
<circle cx="340.5" cy="139.5" r="3.4" fill="#000080"/>
<circle cx="529.75" cy="139.5" r="3.4" fill="#000080"/>
<circle cx="529.75" cy="153.3" r="3.4" fill="#000080"/>
<circle cx="239.5" cy="193.5" r="3.4" fill="#000080"/>
<line x1="489.5" y1="193.5" x2="543.5" y2="193.5" stroke="#000080" stroke-width="1.2" />
<text transform="matrix(1.0000 0 0 1 489.20 190.70)" fill="#800000" font-size="12.00" font-family="Liberation Sans, sans-serif" >FB_BUCK</text>
<line x1="286.5" y1="220.5" x2="489.5" y2="220.5" stroke="#000080" stroke-width="1.2" />
<line x1="489.5" y1="220.5" x2="489.5" y2="247.5" stroke="#000080" stroke-width="1.2" />
<line x1="489.5" y1="247.5" x2="543.5" y2="247.5" stroke="#000080" stroke-width="1.2" />
<text transform="matrix(1.0000 0 0 1 435.30 217.60)" fill="#800000" font-size="12.00" font-family="Liberation Sans, sans-serif" >AVDD</text>
<line x1="286.5" y1="220.5" x2="286.5" y2="247.5" stroke="#000080" stroke-width="1.2" />
<line x1="286.5" y1="247.5" x2="286.5" y2="261.0" stroke="#000000" stroke-width="1.2" />
<line x1="286.5" y1="274.5" x2="286.5" y2="288.0" stroke="#000000" stroke-width="1.2" />
<line x1="286.5" y1="261.0" x2="286.5" y2="265.25" stroke="#0000FF" stroke-width="1.1" />
<line x1="286.5" y1="270.25" x2="286.5" y2="274.5" stroke="#0000FF" stroke-width="1.1" />
<line x1="274.90000000000003" y1="265.25" x2="297.7" y2="265.25" stroke="#0000FF" stroke-width="1.05" />
<line x1="274.90000000000003" y1="270.25" x2="297.7" y2="270.25" stroke="#0000FF" stroke-width="1.05" />
<text transform="matrix(1.0000 0 0 1 299.20 270.75)" fill="#000000" font-size="12.00" font-family="Liberation Sans, sans-serif" >C5</text>
<text transform="matrix(1.0000 0 0 1 299.20 284.15)" fill="#000080" font-size="12.00" font-family="Liberation Serif, serif" stroke="#000080" stroke-width="0.18">1µF</text>
<text transform="matrix(1.0000 0 0 1 299.20 297.55)" fill="#000080" font-size="12.00" font-family="Liberation Serif, serif" stroke="#000080" stroke-width="0.18">6.3V</text>
<line x1="286.5" y1="288" x2="286.5" y2="301.5" stroke="#800000" stroke-width="1.2" />
<line x1="272.5" y1="301.5" x2="300.5" y2="301.5" stroke="#800000" stroke-width="1.2" />
<line x1="277.0" y1="305.5" x2="296.0" y2="305.5" stroke="#800000" stroke-width="1.2" />
<line x1="280.75" y1="309.5" x2="292.25" y2="309.5" stroke="#800000" stroke-width="1.2" />
<line x1="284.5" y1="313.5" x2="288.5" y2="313.5" stroke="#800000" stroke-width="1.2" />
<text transform="matrix(1.0000 0 0 1 269.66 325.70)" fill="#800000" font-size="12.00" font-family="Liberation Sans, sans-serif" >AGND</text>
<line x1="394.75" y1="207.0" x2="394.75" y2="220.5" stroke="#000000" stroke-width="1.2" />
<circle cx="394.75" cy="201.7" r="5.3" fill="#ED1C24" stroke="#000000" stroke-width="1.2"/>
<text transform="matrix(1.0000 0 0 1 381.50 190.80)" fill="#000080" font-size="12.00" font-family="Liberation Sans, sans-serif" >AVDD</text>
<circle cx="394.75" cy="220.5" r="3.4" fill="#000080"/>
<line x1="354.5" y1="274.5" x2="543.5" y2="274.5" stroke="#000080" stroke-width="1.2" />
<text transform="matrix(1.0000 0 0 1 489.20 271.60)" fill="#800000" font-size="12.00" font-family="Liberation Sans, sans-serif" >DVDD</text>
<line x1="354.5" y1="274.5" x2="354.5" y2="288.0" stroke="#000000" stroke-width="1.2" />
<line x1="354.5" y1="301.5" x2="354.5" y2="315.0" stroke="#000000" stroke-width="1.2" />
<line x1="354.5" y1="288.0" x2="354.5" y2="292.25" stroke="#0000FF" stroke-width="1.1" />
<line x1="354.5" y1="297.25" x2="354.5" y2="301.5" stroke="#0000FF" stroke-width="1.1" />
<line x1="342.90000000000003" y1="292.25" x2="365.7" y2="292.25" stroke="#0000FF" stroke-width="1.05" />
<line x1="342.90000000000003" y1="297.25" x2="365.7" y2="297.25" stroke="#0000FF" stroke-width="1.05" />
<text transform="matrix(1.0000 0 0 1 366.80 297.75)" fill="#000000" font-size="12.00" font-family="Liberation Sans, sans-serif" >C6</text>
<text transform="matrix(1.0000 0 0 1 366.80 311.15)" fill="#000080" font-size="12.00" font-family="Liberation Serif, serif" stroke="#000080" stroke-width="0.18">1µF</text>
<text transform="matrix(1.0000 0 0 1 366.80 324.55)" fill="#000080" font-size="12.00" font-family="Liberation Serif, serif" stroke="#000080" stroke-width="0.18">6.3V</text>
<line x1="354.5" y1="315" x2="354.5" y2="328.5" stroke="#800000" stroke-width="1.2" />
<line x1="340.5" y1="328.5" x2="368.5" y2="328.5" stroke="#800000" stroke-width="1.2" />
<line x1="345.0" y1="332.5" x2="364.0" y2="332.5" stroke="#800000" stroke-width="1.2" />
<line x1="348.75" y1="336.5" x2="360.25" y2="336.5" stroke="#800000" stroke-width="1.2" />
<line x1="352.5" y1="340.5" x2="356.5" y2="340.5" stroke="#800000" stroke-width="1.2" />
<text transform="matrix(1.0000 0 0 1 336.86 352.70)" fill="#800000" font-size="12.00" font-family="Liberation Sans, sans-serif" >AGND</text>
<line x1="394.75" y1="261.0" x2="394.75" y2="274.5" stroke="#000000" stroke-width="1.2" />
<circle cx="394.75" cy="255.7" r="5.3" fill="#ED1C24" stroke="#000000" stroke-width="1.2"/>
<text transform="matrix(1.0000 0 0 1 380.80 244.80)" fill="#000080" font-size="12.00" font-family="Liberation Sans, sans-serif" >DVDD</text>
<circle cx="394.75" cy="274.5" r="3.4" fill="#000080"/>
<line x1="421.5" y1="301.5" x2="543.5" y2="301.5" stroke="#000080" stroke-width="1.2" />
<text transform="matrix(1.0000 0 0 1 455.60 298.60)" fill="#800000" font-size="12.00" font-family="Liberation Sans, sans-serif" >CPH</text>
<line x1="421.5" y1="301.5" x2="421.5" y2="315.0" stroke="#000000" stroke-width="1.2" />
<line x1="421.5" y1="328.5" x2="421.5" y2="342.0" stroke="#000000" stroke-width="1.2" />
<line x1="421.5" y1="315.0" x2="421.5" y2="319.25" stroke="#0000FF" stroke-width="1.1" />
<line x1="421.5" y1="324.25" x2="421.5" y2="328.5" stroke="#0000FF" stroke-width="1.1" />
<line x1="409.90000000000003" y1="319.25" x2="432.7" y2="319.25" stroke="#0000FF" stroke-width="1.05" />
<line x1="409.90000000000003" y1="324.25" x2="432.7" y2="324.25" stroke="#0000FF" stroke-width="1.05" />
<text transform="matrix(1.0000 0 0 1 434.20 324.75)" fill="#000000" font-size="12.00" font-family="Liberation Sans, sans-serif" >C7</text>
<text transform="matrix(1.0000 0 0 1 434.20 338.15)" fill="#000000" font-size="12.00" font-family="Liberation Sans, sans-serif" >50V</text>
<text transform="matrix(1.0000 0 0 1 434.20 351.55)" fill="#000000" font-size="12.00" font-family="Liberation Sans, sans-serif" >0.047uF</text>
<line x1="421.5" y1="342" x2="421.5" y2="355.5" stroke="#000080" stroke-width="1.2" />
<line x1="421.5" y1="355.5" x2="489.5" y2="355.5" stroke="#000080" stroke-width="1.2" />
<line x1="489.5" y1="328.5" x2="489.5" y2="355.5" stroke="#000080" stroke-width="1.2" />
<line x1="489.5" y1="328.5" x2="543.5" y2="328.5" stroke="#000080" stroke-width="1.2" />
<text transform="matrix(1.0000 0 0 1 502.80 325.60)" fill="#800000" font-size="12.00" font-family="Liberation Sans, sans-serif" >CPL</text>
<line x1="516.3" y1="355.5" x2="543.5" y2="355.5" stroke="#000080" stroke-width="1.2" />
<text transform="matrix(1.0000 0 0 1 519.20 352.60)" fill="#800000" font-size="12.00" font-family="Liberation Sans, sans-serif" >VCP</text>
<line x1="489.5" y1="396.3" x2="543.5" y2="396.3" stroke="#000080" stroke-width="1.2" />
<text transform="matrix(1.0000 0 0 1 489.20 393.20)" fill="#800000" font-size="12.00" font-family="Liberation Sans, sans-serif" >SPEED</text>
<line x1="435.2" y1="423.3" x2="543.5" y2="423.3" stroke="#000080" stroke-width="1.2" />
<text transform="matrix(1.0000 0 0 1 476.00 420.10)" fill="#800000" font-size="12.00" font-family="Liberation Sans, sans-serif" >EXT_WD</text>
<line x1="381.25" y1="436.5" x2="543.5" y2="436.5" stroke="#000080" stroke-width="1.2" />
<text transform="matrix(1.0000 0 0 1 476.00 433.60)" fill="#800000" font-size="12.00" font-family="Liberation Sans, sans-serif" >EXT_CLK</text>
<line x1="327.25" y1="463.5" x2="543.5" y2="463.5" stroke="#000080" stroke-width="1.2" />
<text transform="matrix(1.0000 0 0 1 435.30 460.60)" fill="#800000" font-size="12.00" font-family="Liberation Sans, sans-serif" >DACOUT2</text>
<line x1="259.5" y1="477.3" x2="543.5" y2="477.3" stroke="#000080" stroke-width="1.2" />
<text transform="matrix(1.0000 0 0 1 435.30 474.10)" fill="#800000" font-size="12.00" font-family="Liberation Sans, sans-serif" >DACOUT2/SOX</text>
<line x1="192.5" y1="490.5" x2="543.5" y2="490.5" stroke="#000080" stroke-width="1.2" />
<text transform="matrix(1.0000 0 0 1 435.30 487.60)" fill="#800000" font-size="12.00" font-family="Liberation Sans, sans-serif" >DACOUT1</text>
<line x1="435.2" y1="409.5" x2="435.2" y2="423" stroke="#000000" stroke-width="1.2" />
<circle cx="435.2" cy="404.2" r="5.3" fill="#FFFFFF" stroke="#000000" stroke-width="1.2"/>
<text transform="matrix(1.0000 0 0 1 414.60 393.00)" fill="#000000" font-size="12.00" font-family="Liberation Sans, sans-serif" >EXT_WD</text>
<line x1="381.25" y1="423.0" x2="381.25" y2="436.5" stroke="#000000" stroke-width="1.2" />
<circle cx="381.25" cy="417.7" r="5.3" fill="#FFFFFF" stroke="#000000" stroke-width="1.2"/>
<text transform="matrix(1.0000 0 0 1 353.80 406.80)" fill="#000000" font-size="12.00" font-family="Liberation Sans, sans-serif" >EXT_CLK</text>
<line x1="327.25" y1="450.0" x2="327.25" y2="463.5" stroke="#000000" stroke-width="1.2" />
<circle cx="327.25" cy="444.7" r="5.3" fill="#FFFFFF" stroke="#000000" stroke-width="1.2"/>
<text transform="matrix(1.0000 0 0 1 299.80 433.50)" fill="#000000" font-size="12.00" font-family="Liberation Sans, sans-serif" >DACOUT2</text>
<line x1="259.5" y1="463.5" x2="259.5" y2="477" stroke="#000000" stroke-width="1.2" />
<circle cx="259.5" cy="458.2" r="5.3" fill="#FFFFFF" stroke="#000000" stroke-width="1.2"/>
<text transform="matrix(1.0184 0 0 1 219.00 446.30)" fill="#000000" font-size="12.00" font-family="Liberation Sans, sans-serif" >DACOUT2/SOX</text>
<line x1="192.5" y1="477.0" x2="192.5" y2="490.5" stroke="#000000" stroke-width="1.2" />
<circle cx="192.5" cy="471.7" r="5.3" fill="#FFFFFF" stroke="#000000" stroke-width="1.2"/>
<text transform="matrix(1.0000 0 0 1 164.80 460.50)" fill="#000000" font-size="12.00" font-family="Liberation Sans, sans-serif" >DACOUT1</text>
<line x1="489.5" y1="517.5" x2="543.5" y2="517.5" stroke="#000080" stroke-width="1.2" />
<text transform="matrix(1.0000 0 0 1 489.20 514.70)" fill="#800000" font-size="12.00" font-family="Liberation Sans, sans-serif" >BRAKE</text>
<line x1="489.5" y1="544.5" x2="543.5" y2="544.5" stroke="#000080" stroke-width="1.2" />
<text transform="matrix(1.0000 0 0 1 489.20 541.70)" fill="#800000" font-size="12.00" font-family="Liberation Sans, sans-serif" >DIR</text>
<line x1="489.5" y1="571.5" x2="543.5" y2="571.5" stroke="#000080" stroke-width="1.2" />
<text transform="matrix(1.0000 0 0 1 489.20 568.70)" fill="#800000" font-size="12.00" font-family="Liberation Sans, sans-serif" >ALARM</text>
<line x1="489.5" y1="625.5" x2="543.5" y2="625.5" stroke="#000080" stroke-width="1.2" />
<text transform="matrix(1.0000 0 0 1 489.20 622.70)" fill="#800000" font-size="12.00" font-family="Liberation Sans, sans-serif" >nFAULT</text>
<line x1="448.5" y1="598.5" x2="543.5" y2="598.5" stroke="#000080" stroke-width="1.2" />
<text transform="matrix(1.0000 0 0 1 489.20 595.60)" fill="#800000" font-size="12.00" font-family="Liberation Sans, sans-serif" >FG</text>
<line x1="448.5" y1="598.5" x2="448.5" y2="625.5" stroke="#000080" stroke-width="1.2" />
<line x1="367.6" y1="625.5" x2="448.5" y2="625.5" stroke="#000080" stroke-width="1.2" />
<line x1="401.0" y1="558.5" x2="415.5" y2="558.5" stroke="#800000" stroke-width="1.2" />
<line x1="408.25" y1="558.5" x2="408.25" y2="571.7" stroke="#800000" stroke-width="1.2" />
<text transform="matrix(1.0000 0 0 1 392.03 554.70)" fill="#800000" font-size="12.00" font-family="Liberation Sans, sans-serif" >AVDD</text>
<line x1="408.25" y1="571.5" x2="408.25" y2="585.0" stroke="#000000" stroke-width="1.2" />
<line x1="408.25" y1="612.0" x2="408.25" y2="625.5" stroke="#000000" stroke-width="1.2" />
<polyline points="408.25,585.00 408.25,590.50 411.25,591.20 405.25,594.00 411.25,596.80 405.25,599.60 411.25,602.40 405.25,605.20 408.25,606.70 408.25,612.50" fill="none" stroke="#0000FF" stroke-width="1.1" stroke-linejoin="miter"/>
<text transform="matrix(1.0000 0 0 1 412.55 595.00)" fill="#000000" font-size="12.00" font-family="Liberation Sans, sans-serif" >R10</text>
<text transform="matrix(1.0000 0 0 1 412.55 608.40)" fill="#000000" font-size="12.00" font-family="Liberation Sans, sans-serif" >5.1k</text>
<circle cx="408.25" cy="625.5" r="3.4" fill="#000080"/>
<line x1="367.6" y1="598.5" x2="367.6" y2="612" stroke="#000000" stroke-width="1.2" />
<circle cx="367.6" cy="593.2" r="5.3" fill="#FFFFFF" stroke="#000000" stroke-width="1.2"/>
<text transform="matrix(1.0000 0 0 1 360.80 581.50)" fill="#000000" font-size="12.00" font-family="Liberation Sans, sans-serif" >FG</text>
<line x1="367.6" y1="612" x2="367.6" y2="625.5" stroke="#000080" stroke-width="1.2" />
<line x1="293.0" y1="598.5" x2="307.5" y2="598.5" stroke="#800000" stroke-width="1.2" />
<line x1="300.25" y1="598.5" x2="300.25" y2="611.7" stroke="#800000" stroke-width="1.2" />
<text transform="matrix(1.0000 0 0 1 284.03 595.50)" fill="#800000" font-size="12.00" font-family="Liberation Sans, sans-serif" >AVDD</text>
<line x1="300.25" y1="612" x2="300.25" y2="625.5" stroke="#000000" stroke-width="1.2" />
<line x1="300.25" y1="652.5" x2="300.25" y2="666" stroke="#000000" stroke-width="1.2" />
<polyline points="300.25,625.50 300.25,631.00 303.25,631.70 297.25,634.50 303.25,637.30 297.25,640.10 303.25,642.90 297.25,645.70 300.25,647.20 300.25,653.00" fill="none" stroke="#0000FF" stroke-width="1.1" stroke-linejoin="miter"/>
<text transform="matrix(1.0000 0 0 1 304.55 635.50)" fill="#000000" font-size="12.00" font-family="Liberation Sans, sans-serif" >R11</text>
<text transform="matrix(1.0000 0 0 1 304.55 648.90)" fill="#000000" font-size="12.00" font-family="Liberation Sans, sans-serif" >10k</text>
<line x1="300.25" y1="666.3" x2="408.5" y2="666.3" stroke="#000080" stroke-width="1.2" />
<line x1="252.25" y1="612.5" x2="266.75" y2="612.5" stroke="#800000" stroke-width="1.2" />
<line x1="259.5" y1="612.5" x2="259.5" y2="625.7" stroke="#800000" stroke-width="1.2" />
<text transform="matrix(1.0000 0 0 1 243.28 608.70)" fill="#800000" font-size="12.00" font-family="Liberation Sans, sans-serif" >AVDD</text>
<line x1="259.5" y1="625.5" x2="259.5" y2="639.0" stroke="#000000" stroke-width="1.2" />
<line x1="259.5" y1="666.0" x2="259.5" y2="679.5" stroke="#000000" stroke-width="1.2" />
<polyline points="259.50,639.00 259.50,644.50 262.50,645.20 256.50,648.00 262.50,650.80 256.50,653.60 262.50,656.40 256.50,659.20 259.50,660.70 259.50,666.50" fill="none" stroke="#0000FF" stroke-width="1.1" stroke-linejoin="miter"/>
<text transform="matrix(1.0000 0 0 1 263.80 649.00)" fill="#000000" font-size="12.00" font-family="Liberation Sans, sans-serif" >R12</text>
<text transform="matrix(1.0000 0 0 1 263.80 662.40)" fill="#000000" font-size="12.00" font-family="Liberation Sans, sans-serif" >10k</text>
<line x1="259.5" y1="679.5" x2="408.5" y2="679.5" stroke="#000080" stroke-width="1.2" />
<text transform="matrix(1.0000 0 0 1 327.30 663.40)" fill="#800000" font-size="12.00" font-family="Liberation Sans, sans-serif" >MCX_SCL</text>
<text transform="matrix(1.0000 0 0 1 327.30 676.90)" fill="#800000" font-size="12.00" font-family="Liberation Sans, sans-serif" >MCX_SDA</text>
<line x1="408.5" y1="666.3" x2="421.2" y2="666.3" stroke="#000000" stroke-width="1.2" />
<line x1="449.0" y1="666.3" x2="462.5" y2="666.3" stroke="#000000" stroke-width="1.2" />
<polyline points="421.20,666.00 427.50,666.00 428.20,663.30 431.00,668.70 433.80,663.30 436.60,668.70 439.40,663.30 442.20,668.70 443.70,666.00 449.00,666.00" fill="none" stroke="#0000FF" stroke-width="1.1"/>
<text transform="matrix(1.0000 0 0 1 408.70 663.40)" fill="#000000" font-size="12.00" font-family="Liberation Sans, sans-serif" >R13</text>
<text transform="matrix(1.0000 0 0 1 448.80 663.40)" fill="#000000" font-size="12.00" font-family="Liberation Sans, sans-serif" >0</text>
<line x1="408.5" y1="679.5" x2="421.2" y2="679.5" stroke="#000000" stroke-width="1.2" />
<line x1="449.0" y1="679.5" x2="462.5" y2="679.5" stroke="#000000" stroke-width="1.2" />
<polyline points="421.20,679.50 427.50,679.50 428.20,676.80 431.00,682.20 433.80,676.80 436.60,682.20 439.40,676.80 442.20,682.20 443.70,679.50 449.00,679.50" fill="none" stroke="#0000FF" stroke-width="1.1"/>
<text transform="matrix(1.0000 0 0 1 408.70 676.90)" fill="#000000" font-size="12.00" font-family="Liberation Sans, sans-serif" >R14</text>
<text transform="matrix(1.0000 0 0 1 448.80 676.90)" fill="#000000" font-size="12.00" font-family="Liberation Sans, sans-serif" >0</text>
<line x1="462.5" y1="666.3" x2="543.5" y2="666.3" stroke="#000080" stroke-width="1.2" />
<line x1="462.5" y1="679.5" x2="543.5" y2="679.5" stroke="#000080" stroke-width="1.2" />
<text transform="matrix(1.0000 0 0 1 489.20 663.40)" fill="#800000" font-size="12.00" font-family="Liberation Sans, sans-serif" >SCL</text>
<text transform="matrix(1.0000 0 0 1 489.20 676.90)" fill="#800000" font-size="12.00" font-family="Liberation Sans, sans-serif" >SDA</text>
<line x1="813.5" y1="139.5" x2="908" y2="139.5" stroke="#000080" stroke-width="1.2" />
<text transform="matrix(1.0000 0 0 1 846.80 136.70)" fill="#800000" font-size="12.00" font-family="Liberation Sans, sans-serif" >SW_BUCK</text>
<line x1="813.5" y1="193.5" x2="908" y2="193.5" stroke="#000080" stroke-width="1.2" />
<text transform="matrix(1.0000 0 0 1 853.60 190.70)" fill="#800000" font-size="12.00" font-family="Liberation Sans, sans-serif" >DRVOFF</text>
<line x1="813.5" y1="247.5" x2="827" y2="247.5" stroke="#000080" stroke-width="1.2" />
<line x1="826.75" y1="247.5" x2="826.75" y2="261" stroke="#000080" stroke-width="1.2" />
<line x1="813.5" y1="261.3" x2="941.6" y2="261.3" stroke="#000080" stroke-width="1.2" />
<line x1="867.25" y1="247.5" x2="867.25" y2="261" stroke="#000000" stroke-width="1.2" />
<circle cx="867.25" cy="242.2" r="5.3" fill="#ED1C24" stroke="#000000" stroke-width="1.2"/>
<text transform="matrix(1.0000 0 0 1 853.20 230.70)" fill="#000080" font-size="12.00" font-family="Liberation Sans, sans-serif" >OUTA</text>
<circle cx="826.75" cy="261.3" r="3.4" fill="#000080"/>
<circle cx="867.25" cy="261.3" r="3.4" fill="#000080"/>
<text transform="matrix(1.0000 0 0 1 907.80 257.60)" fill="#800000" font-size="12.00" font-family="Liberation Sans, sans-serif" >OUTA</text>
<line x1="813.5" y1="315.3" x2="827" y2="315.3" stroke="#000080" stroke-width="1.2" />
<line x1="826.75" y1="315" x2="826.75" y2="328.5" stroke="#000080" stroke-width="1.2" />
<line x1="813.5" y1="328.5" x2="941.6" y2="328.5" stroke="#000080" stroke-width="1.2" />
<line x1="867.25" y1="315.0" x2="867.25" y2="328.5" stroke="#000000" stroke-width="1.2" />
<circle cx="867.25" cy="309.7" r="5.3" fill="#ED1C24" stroke="#000000" stroke-width="1.2"/>
<text transform="matrix(1.0000 0 0 1 853.20 298.20)" fill="#000080" font-size="12.00" font-family="Liberation Sans, sans-serif" >OUTB</text>
<circle cx="826.75" cy="328.5" r="3.4" fill="#000080"/>
<circle cx="867.25" cy="328.5" r="3.4" fill="#000080"/>
<text transform="matrix(1.0000 0 0 1 907.80 325.10)" fill="#800000" font-size="12.00" font-family="Liberation Sans, sans-serif" >OUTB</text>
<line x1="813.5" y1="382.5" x2="827" y2="382.5" stroke="#000080" stroke-width="1.2" />
<line x1="826.75" y1="382.5" x2="826.75" y2="396" stroke="#000080" stroke-width="1.2" />
<line x1="813.5" y1="396.3" x2="941.6" y2="396.3" stroke="#000080" stroke-width="1.2" />
<line x1="867.25" y1="382.5" x2="867.25" y2="396" stroke="#000000" stroke-width="1.2" />
<circle cx="867.25" cy="377.2" r="5.3" fill="#ED1C24" stroke="#000000" stroke-width="1.2"/>
<text transform="matrix(1.0000 0 0 1 853.20 365.70)" fill="#000080" font-size="12.00" font-family="Liberation Sans, sans-serif" >OUTC</text>
<circle cx="826.75" cy="396.3" r="3.4" fill="#000080"/>
<circle cx="867.25" cy="396.3" r="3.4" fill="#000080"/>
<text transform="matrix(1.0000 0 0 1 907.80 392.60)" fill="#800000" font-size="12.00" font-family="Liberation Sans, sans-serif" >OUTC</text>
<line x1="813.5" y1="477.3" x2="901.5" y2="477.3" stroke="#000080" stroke-width="1.2" />
<line x1="901.5" y1="477" x2="901.5" y2="612" stroke="#000080" stroke-width="1.2" />
<line x1="901.5" y1="612" x2="901.5" y2="625.5" stroke="#800000" stroke-width="1.2" />
<line x1="813.5" y1="490.5" x2="901.5" y2="490.5" stroke="#000080" stroke-width="1.2" />
<circle cx="901.5" cy="490.5" r="3.4" fill="#000080"/>
<line x1="813.5" y1="504.3" x2="901.5" y2="504.3" stroke="#000080" stroke-width="1.2" />
<circle cx="901.5" cy="504.3" r="3.4" fill="#000080"/>
<line x1="813.5" y1="517.5" x2="901.5" y2="517.5" stroke="#000080" stroke-width="1.2" />
<circle cx="901.5" cy="517.5" r="3.4" fill="#000080"/>
<line x1="813.5" y1="544.5" x2="901.5" y2="544.5" stroke="#000080" stroke-width="1.2" />
<circle cx="901.5" cy="544.5" r="3.4" fill="#000080"/>
<line x1="813.5" y1="571.5" x2="901.5" y2="571.5" stroke="#000080" stroke-width="1.2" />
<circle cx="901.5" cy="571.5" r="3.4" fill="#000080"/>
<line x1="813.5" y1="598.5" x2="901.5" y2="598.5" stroke="#000080" stroke-width="1.2" />
<circle cx="901.5" cy="598.5" r="3.4" fill="#000080"/>
<line x1="887.5" y1="625.5" x2="915.5" y2="625.5" stroke="#800000" stroke-width="1.2" />
<line x1="892.0" y1="629.5" x2="911.0" y2="629.5" stroke="#800000" stroke-width="1.2" />
<line x1="895.75" y1="633.5" x2="907.25" y2="633.5" stroke="#800000" stroke-width="1.2" />
<line x1="899.5" y1="637.5" x2="903.5" y2="637.5" stroke="#800000" stroke-width="1.2" />
<text transform="matrix(1.0000 0 0 1 883.86 649.70)" fill="#800000" font-size="12.00" font-family="Liberation Sans, sans-serif" >AGND</text>
<line x1="813.5" y1="625.5" x2="827" y2="625.5" stroke="#000080" stroke-width="1.2" />
<line x1="813.5" y1="652.5" x2="827" y2="652.5" stroke="#000080" stroke-width="1.2" />
<line x1="826.75" y1="625.5" x2="826.75" y2="652.5" stroke="#000080" stroke-width="1.2" />
<line x1="813.5" y1="639.3" x2="867.25" y2="639.3" stroke="#000080" stroke-width="1.2" />
<circle cx="826.75" cy="639.3" r="3.4" fill="#000080"/>
<line x1="867.25" y1="639" x2="867.25" y2="666" stroke="#000080" stroke-width="1.2" />
<line x1="867.25" y1="666" x2="867.25" y2="679.5" stroke="#800000" stroke-width="1.2" />
<line x1="853.25" y1="679.5" x2="881.25" y2="679.5" stroke="#800000" stroke-width="1.2" />
<line x1="857.75" y1="683.5" x2="876.75" y2="683.5" stroke="#800000" stroke-width="1.2" />
<line x1="861.5" y1="687.5" x2="873.0" y2="687.5" stroke="#800000" stroke-width="1.2" />
<line x1="865.25" y1="691.5" x2="869.25" y2="691.5" stroke="#800000" stroke-width="1.2" />
<text transform="matrix(1.0000 0 0 1 850.06 703.70)" fill="#800000" font-size="12.00" font-family="Liberation Sans, sans-serif" >PGND</text>
<line x1="813.5" y1="679.5" x2="827" y2="679.5" stroke="#000080" stroke-width="1.2" />
<line x1="826.75" y1="679.5" x2="826.75" y2="693" stroke="#000080" stroke-width="1.2" />
<line x1="826.75" y1="693" x2="826.75" y2="706.5" stroke="#800000" stroke-width="1.2" />
<line x1="813" y1="706.5" x2="841" y2="706.5" stroke="#800000" stroke-width="1.2" />
<line x1="817.5" y1="710.5" x2="836.5" y2="710.5" stroke="#800000" stroke-width="1.2" />
<line x1="821.25" y1="714.5" x2="832.75" y2="714.5" stroke="#800000" stroke-width="1.2" />
<line x1="825" y1="718.5" x2="829" y2="718.5" stroke="#800000" stroke-width="1.2" />
<text transform="matrix(1.0000 0 0 1 809.66 730.70)" fill="#800000" font-size="12.00" font-family="Liberation Sans, sans-serif" >AGND</text>
</svg>
</body></html>
